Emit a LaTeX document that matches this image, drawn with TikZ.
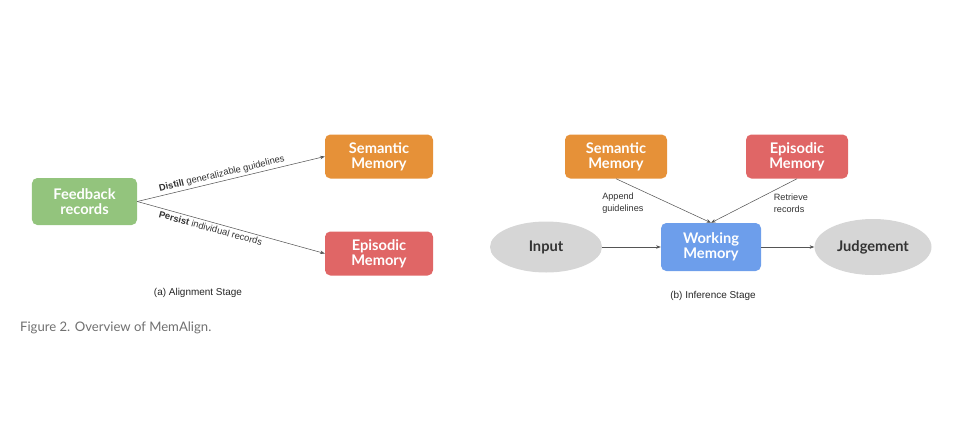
\documentclass[tikz,border=0pt]{standalone}
\usepackage{fontspec}
\setmainfont{Liberation Sans}
\newfontfamily\boxfont{Lato}
\usetikzlibrary{arrows.meta}
\usetikzlibrary{shapes.geometric}
\definecolor{feedback}{RGB}{147,196,125}
\definecolor{semantic}{RGB}{230,145,56}
\definecolor{episodic}{RGB}{224,102,102}
\definecolor{working}{RGB}{109,158,235}
\definecolor{io}{RGB}{214,214,214}
\definecolor{pfeil}{RGB}{85,85,85}
\definecolor{caption}{RGB}{112,112,112}

\begin{document}
\begin{tikzpicture}[x=0.03cm, y=-0.03cm, >={Stealth[length=4pt,width=3pt]},
	memory/.style={rectangle, rounded corners=0.16cm, text=white, align=center,
		minimum width=3.15cm, minimum height=1.32cm,
		font=\boxfont\bfseries\fontsize{12.5}{13}\selectfont},
	io/.style={ellipse, fill=io, text=black!80, minimum width=3.4cm, minimum height=1.55cm,
		font=\boxfont\bfseries\fontsize{12.5}{13}\selectfont},
	flow/.style={->, pfeil, line width=0.45pt},
	edgelabel/.style={text=black!80, font=\fontsize{8}{9.5}\selectfont},
	stage/.style={text=black!85, font=\fontsize{8.5}{10}\selectfont}]

	\useasboundingbox (0,0) rectangle (960,420);

	% (a) alignment stage
	\node[memory, fill=feedback, minimum height=1.41cm] (feed) at (84.5,201.5) {Feedback\\records};
	\node[memory, fill=semantic, minimum width=3.24cm] (sem1) at (379,156.5) {Semantic\\Memory};
	\node[memory, fill=episodic, minimum width=3.24cm] (epi1) at (379,253.5) {Episodic\\Memory};

	\draw[flow] (feed.east) -- (sem1.west) node[edgelabel, pos=0.46, above, sloped, inner sep=2pt] {\textbf{Distill} generalizable guidelines};
	\draw[flow] (feed.east) -- (epi1.west) node[edgelabel, pos=0.4, below, sloped, inner sep=2pt] {\textbf{Persist} individual records};

	\node[stage] (capa) at (198,293) {(a) Alignment Stage};

	% (b) inference stage
	\node[memory, fill=semantic, minimum width=3.06cm] (sem2) at (616,156.5) {Semantic\\Memory};
	\node[memory, fill=episodic, minimum width=3.06cm] (epi2) at (797,156.5) {Episodic\\Memory};
	\node[memory, fill=working, minimum width=3cm, minimum height=1.44cm] (work) at (711,247) {Working\\Memory};
	\node[io, minimum width=3.36cm, minimum height=1.53cm] (input) at (546,247) {Input};
	\node[io, minimum width=3.51cm, minimum height=1.68cm] (judge) at (873,247) {Judgement};

	\draw[flow] (sem2.south) -- (work.north) node[edgelabel, pos=0.55, left=0.62cm, align=left, font=\fontsize{7.8}{10}\selectfont] {Append\\guidelines};
	\draw[flow] (epi2.south) -- (work.north) node[edgelabel, pos=0.55, right=0.6cm, align=left, font=\fontsize{7.8}{10}\selectfont] {Retrieve\\records};
	\draw[flow] (input) -- (work);
	\draw[flow] (work) -- (judge);

	\node[stage] (capb) at (713,296) {(b) Inference Stage};

	\node[anchor=west, text=caption, font=\boxfont\fontsize{11.2}{13}\selectfont] (fig) at (16,328) {Figure 2. Overview of MemAlign.};

\end{tikzpicture}
\end{document}
